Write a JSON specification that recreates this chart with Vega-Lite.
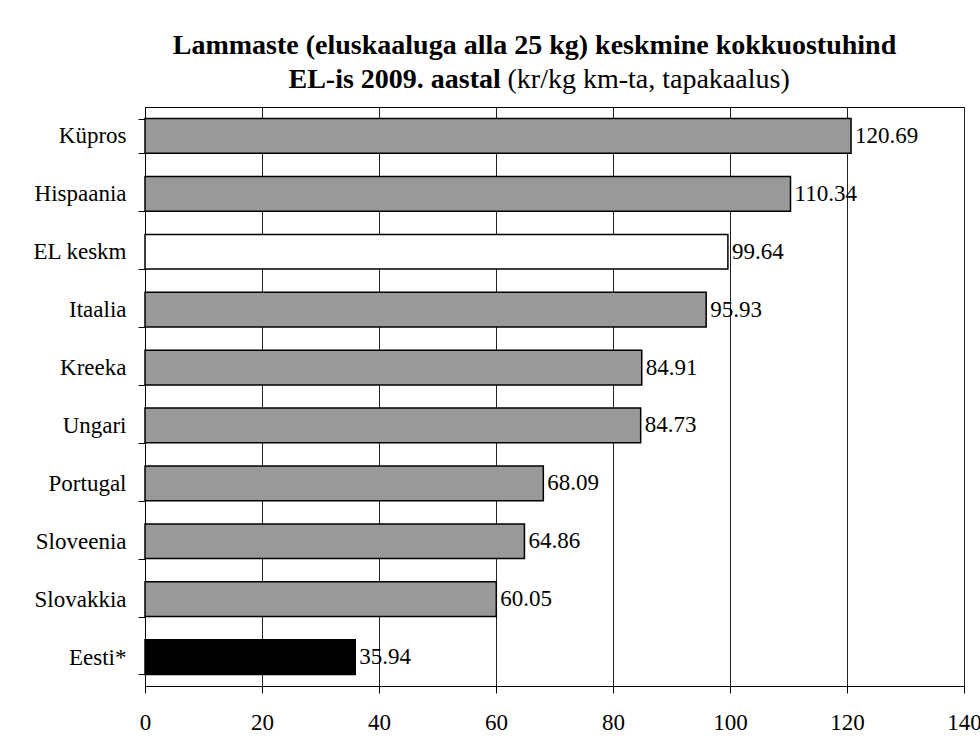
{
  "$schema": "https://vega.github.io/schema/vega-lite/v6.json",
  "width": 819,
  "height": 579,
  "autosize": {"type": "none"},
  "padding": {"left": 145, "top": 107, "right": 16, "bottom": 52},
  "background": "white",
  "title": {
    "text": "Lammaste (eluskaaluga alla 25 kg) keskmine kokkuostuhind",
    "font": "Liberation Serif",
    "fontSize": 28,
    "fontWeight": "bold",
    "color": "#000",
    "anchor": "middle",
    "frame": "group",
    "dx": -20,
    "offset": 5
  },
  "data": {
    "values": [
      {"riik": "Küpros", "hind": 120.69, "grupp": "riik"},
      {"riik": "Hispaania", "hind": 110.34, "grupp": "riik"},
      {"riik": "EL keskm", "hind": 99.64, "grupp": "EL"},
      {"riik": "Itaalia", "hind": 95.93, "grupp": "riik"},
      {"riik": "Kreeka", "hind": 84.91, "grupp": "riik"},
      {"riik": "Ungari", "hind": 84.73, "grupp": "riik"},
      {"riik": "Portugal", "hind": 68.09, "grupp": "riik"},
      {"riik": "Sloveenia", "hind": 64.86, "grupp": "riik"},
      {"riik": "Slovakkia", "hind": 60.05, "grupp": "riik"},
      {"riik": "Eesti*", "hind": 35.94, "grupp": "Eesti"}
    ]
  },
  "encoding": {
    "y": {
      "field": "riik",
      "type": "nominal",
      "sort": null,
      "scale": {"paddingInner": 0.4, "paddingOuter": 0.2},
      "axis": {
        "title": "EL-is 2009. aastal",
        "titleFont": "Liberation Serif",
        "titleFontSize": 28,
        "titleFontWeight": "bold",
        "titleColor": "#000",
        "titleAngle": 0,
        "titleAlign": "left",
        "titleBaseline": "alphabetic",
        "titleX": 143,
        "titleY": -20,
        "tickBand": "extent",
        "tickSize": 7,
        "tickColor": "#000",
        "domainColor": "#000",
        "labelFont": "Liberation Serif",
        "labelFontSize": 23,
        "labelColor": "#000",
        "labelPadding": 12,
        "grid": false
      }
    }
  },
  "layer": [
    {
      "mark": {"type": "bar", "stroke": "#000", "strokeWidth": 1.5},
      "encoding": {
        "x": {
          "field": "hind",
          "type": "quantitative",
          "scale": {"domain": [0, 140], "nice": false},
          "axis": {
            "title": "(kr/kg km-ta, tapakaalus)",
            "titleFont": "Liberation Serif",
            "titleFontSize": 28,
            "titleFontWeight": "normal",
            "titleColor": "#000",
            "titleAlign": "left",
            "titleBaseline": "alphabetic",
            "titleX": 362,
            "titleY": -599,
            "values": [0, 20, 40, 60, 80, 100, 120, 140],
            "grid": true,
            "gridColor": "#222",
            "gridWidth": 1,
            "tickSize": 7,
            "tickColor": "#000",
            "domainColor": "#000",
            "labelFont": "Liberation Serif",
            "labelFontSize": 23,
            "labelColor": "#000",
            "labelPadding": 18,
            "labelFlush": false
          }
        },
        "color": {
          "field": "grupp",
          "type": "nominal",
          "scale": {"domain": ["riik", "EL", "Eesti"], "range": ["#999999", "#ffffff", "#000000"]},
          "legend": null
        }
      }
    },
    {
      "mark": {"type": "text", "align": "left", "baseline": "middle", "dx": 4, "font": "Liberation Serif", "fontSize": 23, "color": "#000"},
      "encoding": {
        "x": {"field": "hind", "type": "quantitative"},
        "text": {"field": "hind", "type": "quantitative", "format": ".2f"}
      }
    }
  ],
  "config": {
    "view": {"stroke": "#000", "strokeWidth": 1}
  }
}
